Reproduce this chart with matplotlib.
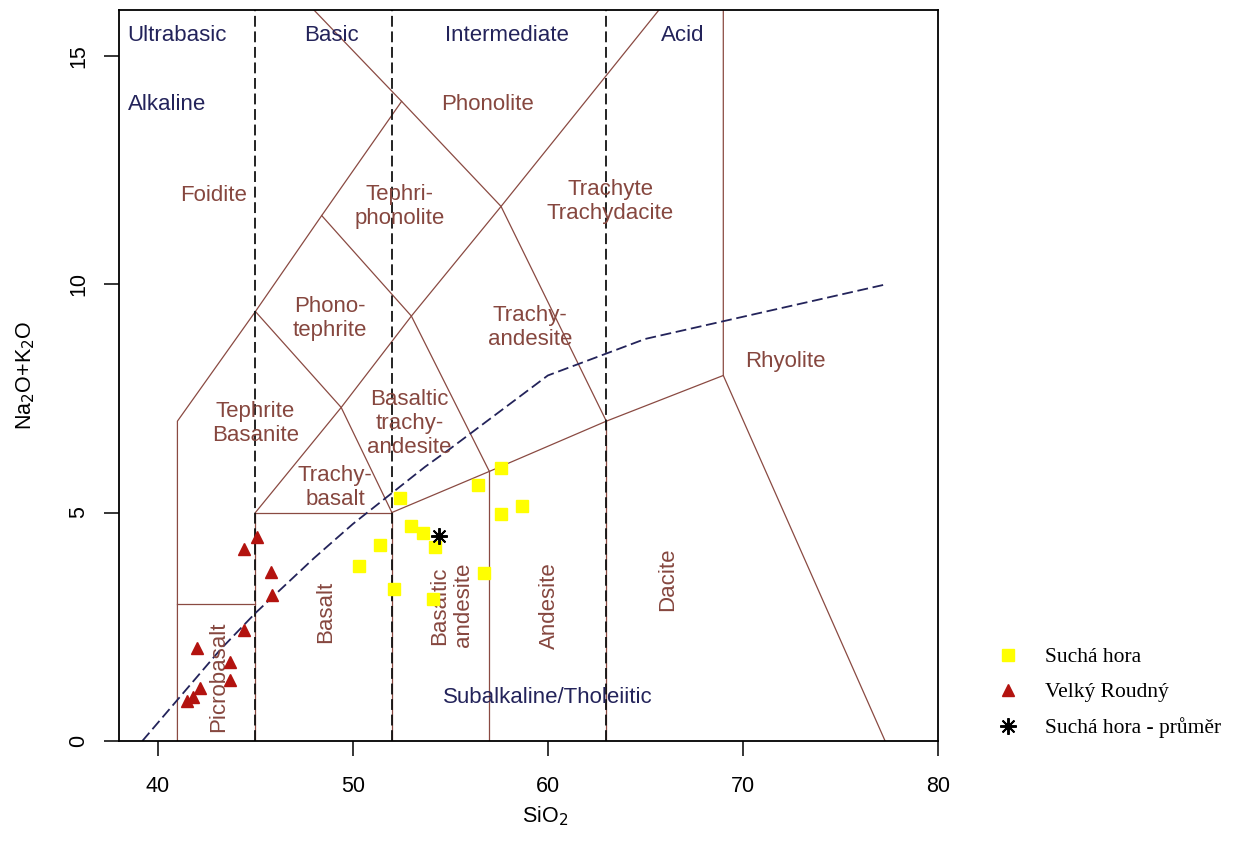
import numpy as np
import matplotlib
matplotlib.use("Agg")
import matplotlib.pyplot as plt

# --- samples ---
sucha_sio2 = [50.3, 51.4, 52.1, 52.4, 53.0, 53.6, 54.2, 54.1, 56.4, 56.7, 57.6, 57.6, 58.7]
sucha_alk = [3.83, 4.30, 3.32, 5.31, 4.70, 4.55, 4.24, 3.10, 5.60, 3.67, 5.97, 4.96, 5.14]

roudny_sio2 = [45.1, 44.4, 45.8, 45.85, 44.4, 42.0, 43.7, 43.7, 42.15, 41.8, 41.5]
roudny_alk = [4.46, 4.20, 3.70, 3.19, 2.43, 2.03, 1.73, 1.33, 1.16, 0.97, 0.88]

mean_sio2 = [54.4]
mean_alk = [4.48]

# --- TAS boundaries (Le Bas et al. 1986) ---
tas_lines = [
    [(41, 0), (41, 7), (45, 9.4), (48.4, 11.5), (52.5, 14)],
    [(41, 3), (45, 3)],
    [(45, 0), (45, 5), (52, 5), (52, 0)],
    [(45, 5), (49.4, 7.3), (53, 9.3), (57.6, 11.7), (65.7, 16)],
    [(45, 9.4), (49.4, 7.3), (52, 5)],
    [(48.4, 11.5), (53, 9.3), (57, 5.9)],
    [(48.0, 16), (52.5, 14), (57.6, 11.7), (63, 7)],
    [(52, 5), (57, 5.9), (63, 7), (69, 8)],
    [(57, 0), (57, 5.9)],
    [(63, 0), (63, 7)],
    [(69, 16), (69, 8), (77.3, 0)],
]
silica_div = [45, 52, 63]

# Irvine & Baragar alkaline / subalkaline divide
ib_x = [39.2, 40, 43.2, 45, 48, 50, 53.7, 55, 60, 65, 77.4]
ib_y = [0, 0.4, 2, 2.8, 4, 4.75, 6, 6.4, 8, 8.8, 10]

# field names: (text, x, y, rotation)
fields = [
    ("Foidite", 42.85, 11.94, 0),
    ("Phonolite", 56.9, 13.93, 0),
    ("Tephri-\nphonolite", 52.4, 11.7, 0),
    ("Trachyte\nTrachydacite", 63.2, 11.8, 0),
    ("Phono-\ntephrite", 48.8, 9.25, 0),
    ("Trachy-\nandesite", 59.1, 9.05, 0),
    ("Rhyolite", 72.2, 8.3, 0),
    ("Tephrite\nBasanite", 45.0, 6.95, 0),
    ("Basaltic\ntrachy-\nandesite", 52.9, 6.95, 0),
    ("Trachy-\nbasalt", 49.1, 5.55, 0),
    ("Picrobasalt", 43.1, 1.40, 90),
    ("Basalt", 48.6, 2.82, 90),
    ("Basaltic\nandesite", 55.05, 2.97, 90),
    ("Andesite", 60.1, 2.97, 90),
    ("Dacite", 66.15, 3.54, 90),
]
groups = [
    ("Ultrabasic", 40.97, 15.44),
    ("Basic", 48.9, 15.44),
    ("Intermediate", 57.9, 15.44),
    ("Acid", 66.9, 15.44),
    ("Alkaline", 40.46, 13.93),
    ("Subalkaline/Tholeiitic", 60.0, 0.96),
]

line_col = "#8a4a42"
text_col = "#86473f"
navy = "#23235a"

plt.rcParams["font.family"] = ["Liberation Sans", "DejaVu Sans"]

fig = plt.figure(figsize=(12.52, 8.59), dpi=100)
ax = fig.add_axes([0.095, 0.1374, 0.654, 0.8510])

for seg in tas_lines:
    xs, ys = zip(*seg)
    ax.plot(xs, ys, color=line_col, lw=0.9, zorder=2)
for sx in silica_div:
    ax.plot([sx, sx], [0, 16], color="#111111", lw=1.3, ls=(0, (6, 2.6)), zorder=2)
ax.plot(ib_x, ib_y, color=navy, lw=1.3, ls=(0, (6, 2.6)), zorder=2)

for txt, x, y, rot in fields:
    ax.text(x, y, txt, color=text_col, fontsize=16, ha="center", va="center",
            rotation=rot, zorder=3)
for txt, x, y in groups:
    ax.text(x, y, txt, color=navy, fontsize=16, ha="center", va="center", zorder=3)

ax.plot(sucha_sio2, sucha_alk, ls="none", marker="s", ms=8.5, mfc="#ffff00",
        mec="#ffff00", label="Suchá hora", zorder=4)
ax.plot(roudny_sio2, roudny_alk, ls="none", marker="^", ms=8.5, mfc="#b3130f",
        mec="#b3130f", label="Velký Roudný", zorder=4)
ax.plot(mean_sio2, mean_alk, ls="none", marker=(8, 2, 0), ms=12, mew=1.4,
        color="black", label="Suchá hora - průměr", zorder=5)

ax.set_xlim(38, 80)
ax.set_ylim(0, 16)
ax.set_xticks([40, 50, 60, 70, 80])
ax.set_yticks([0, 5, 10, 15])
ax.tick_params(direction="out", length=11, width=1.1, labelsize=15.5, pad=14)
ax.tick_params(axis="y", pad=10.5)
plt.setp(ax.get_yticklabels(), rotation=90, va="center")
for s in ax.spines.values():
    s.set_linewidth(1.3)

ax.set_xlabel("SiO$_2$", fontsize=15.5)
ax.set_ylabel("Na$_2$O+K$_2$O", fontsize=15.5)
ax.xaxis.set_label_coords(0.52, -0.087)
ax.yaxis.set_label_coords(-0.1, 0.5)

leg = ax.legend(loc="upper left", bbox_to_anchor=(1.049, 0.155), frameon=False,
                prop={"family": "Liberation Serif", "size": 15.5},
                handletextpad=1.2, labelspacing=0.7, handlelength=1.0)

fig.savefig("out.png", dpi=100)
